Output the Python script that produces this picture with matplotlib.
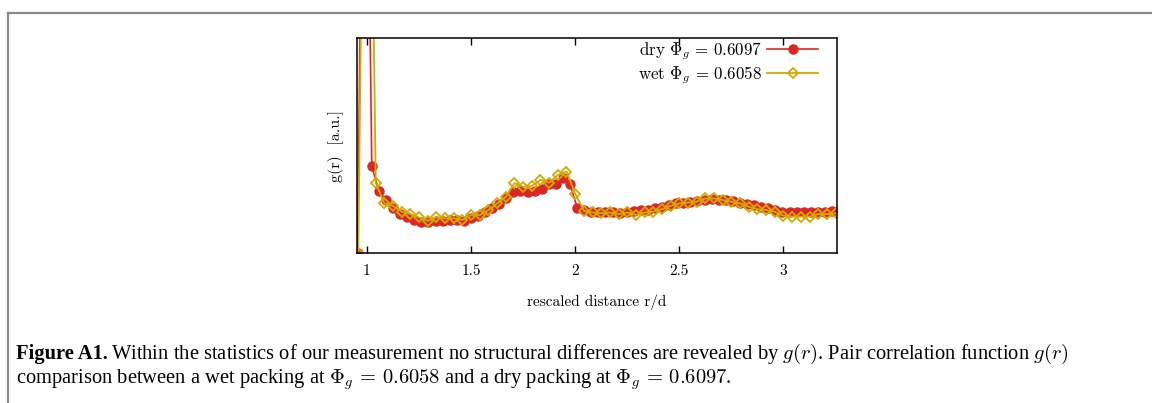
import matplotlib
matplotlib.use("Agg")
import matplotlib.pyplot as plt
from matplotlib.lines import Line2D

# dry packing, Phi_g = 0.6097
dry_r = [0.955, 0.989, 1.023, 1.057, 1.091, 1.125, 1.159, 1.193, 1.227, 1.261,
         1.295, 1.329, 1.363, 1.397, 1.431, 1.465, 1.499, 1.533, 1.567, 1.601,
         1.635, 1.669, 1.703, 1.737, 1.771, 1.805, 1.839, 1.873, 1.907, 1.941,
         1.975, 2.009, 2.043, 2.077, 2.111, 2.145, 2.179, 2.213, 2.247, 2.281,
         2.315, 2.349, 2.383, 2.417, 2.451, 2.485, 2.519, 2.553, 2.587, 2.621,
         2.655, 2.689, 2.723, 2.757, 2.791, 2.825, 2.859, 2.893, 2.927, 2.961,
         2.995, 3.029, 3.063, 3.097, 3.131, 3.165, 3.199, 3.233]
dry_g = [0.00, 16.0, 2.10, 1.50, 1.28, 1.08, 0.94, 0.86, 0.80, 0.76,
         0.76, 0.77, 0.78, 0.80, 0.81, 0.78, 0.84, 0.90, 0.98, 1.08,
         1.19, 1.32, 1.48, 1.51, 1.48, 1.49, 1.54, 1.67, 1.67, 1.81,
         1.67, 1.10, 1.04, 1.00, 0.99, 0.98, 0.98, 0.97, 0.98, 1.02,
         1.03, 1.05, 1.08, 1.12, 1.16, 1.20, 1.22, 1.24, 1.26, 1.28,
         1.30, 1.29, 1.28, 1.26, 1.22, 1.18, 1.16, 1.12, 1.08, 1.04,
         1.00, 0.98, 0.99, 0.98, 0.99, 0.98, 1.00, 1.02]

# wet packing, Phi_g = 0.6058
wet_r = [0.958, 1.000, 1.042, 1.083, 1.125, 1.167, 1.208, 1.250, 1.292, 1.333,
         1.375, 1.417, 1.458, 1.500, 1.542, 1.583, 1.625, 1.667, 1.708, 1.750,
         1.792, 1.833, 1.875, 1.917, 1.958, 2.000, 2.042, 2.083, 2.125, 2.167,
         2.208, 2.250, 2.292, 2.333, 2.375, 2.417, 2.458, 2.500, 2.542, 2.583,
         2.625, 2.667, 2.708, 2.750, 2.792, 2.833, 2.875, 2.917, 2.958, 3.000,
         3.042, 3.083, 3.125, 3.167, 3.208, 3.250]
wet_g = [0.00, 18.0, 1.70, 1.20, 1.14, 1.00, 0.94, 0.86, 0.78, 0.86,
         0.84, 0.84, 0.80, 0.92, 0.92, 1.04, 1.20, 1.36, 1.69, 1.60,
         1.62, 1.77, 1.70, 1.89, 1.97, 1.43, 1.02, 0.98, 0.96, 0.98,
         0.94, 0.98, 0.92, 0.98, 1.00, 1.06, 1.14, 1.20, 1.22, 1.24,
         1.32, 1.32, 1.28, 1.24, 1.20, 1.12, 1.06, 1.04, 1.00, 0.90,
         0.88, 0.88, 0.88, 0.94, 0.94, 0.96]

xticks = [1, 1.5, 2, 2.5, 3]
xtick_labels = ["1", "1.5", "2", "2.5", "3"]

plt.rcParams["mathtext.fontset"] = "cm"
plt.rcParams["font.family"] = "cmr10"
plt.rcParams["axes.formatter.use_mathtext"] = True

W, H = 1152, 403
fig = plt.figure(figsize=(W / 100, H / 100), dpi=100)
ax = fig.add_axes([357 / W, 1 - 253 / H, 480 / W, 215 / H])

ax.plot(dry_r, dry_g, color="#dc2626", lw=1.2, marker="o", ms=6.5,
        label=r"dry $\Phi_g\,=\,0.6097$")
ax.plot(wet_r, wet_g, color="#d4a900", lw=1.3, marker="D", ms=5.3,
        mfc="none", mew=1.3, label=r"wet $\Phi_g\,=\,0.6058$")

ax.set_xlim(0.952, 3.257)
ax.set_ylim(0, 5.2)
ax.set_xticks(xticks)
ax.set_xticklabels(xtick_labels)
ax.set_yticks([])
ax.tick_params(axis="x", direction="in", length=5, width=1, top=True,
               labelsize=11, pad=8)
for s in ax.spines.values():
    s.set_linewidth(1.1)

ax.set_xlabel("rescaled distance r/d", fontsize=11, labelpad=12)
ax.set_ylabel("g(r)  [a.u.]", fontsize=11.5, labelpad=9)

ax.legend(loc="upper right", bbox_to_anchor=((818 - 357) / 480, (253 - 40) / 215),
          frameon=False, markerfirst=False, fontsize=12.2, handlelength=3.0,
          borderaxespad=0, borderpad=0, labelspacing=0.14, handletextpad=0.3)

# page frame
fig.add_artist(Line2D([7.5 / W, 1], [1 - 12.5 / H, 1 - 12.5 / H],
                      transform=fig.transFigure, color="#8a8a8a", lw=1.6))
fig.add_artist(Line2D([7.5 / W, 7.5 / W], [0, 1 - 12.5 / H],
                      transform=fig.transFigure, color="#8a8a8a", lw=1.6))

# caption
cap_fs = 14.8
cap1 = fig.text(16 / W, 1 - 359 / H, "Figure A1.", fontsize=cap_fs,
                family="Liberation Serif", weight="bold", va="baseline")
fig.canvas.draw()
x_end = cap1.get_window_extent().x1 + 3
fig.text(x_end / W, 1 - 359 / H,
         "Within the statistics of our measurement no structural differences are revealed by $g(r)$. "
         "Pair correlation function $g(r)$",
         fontsize=cap_fs, family="Liberation Serif", va="baseline")
fig.text(16 / W, 1 - 384 / H,
         r"comparison between a wet packing at $\Phi_g\,=\,0.6058$ and a dry packing at $\Phi_g\,=\,0.6097$.",
         fontsize=cap_fs, family="Liberation Serif", va="baseline")

fig.savefig("out.png", dpi=100)
